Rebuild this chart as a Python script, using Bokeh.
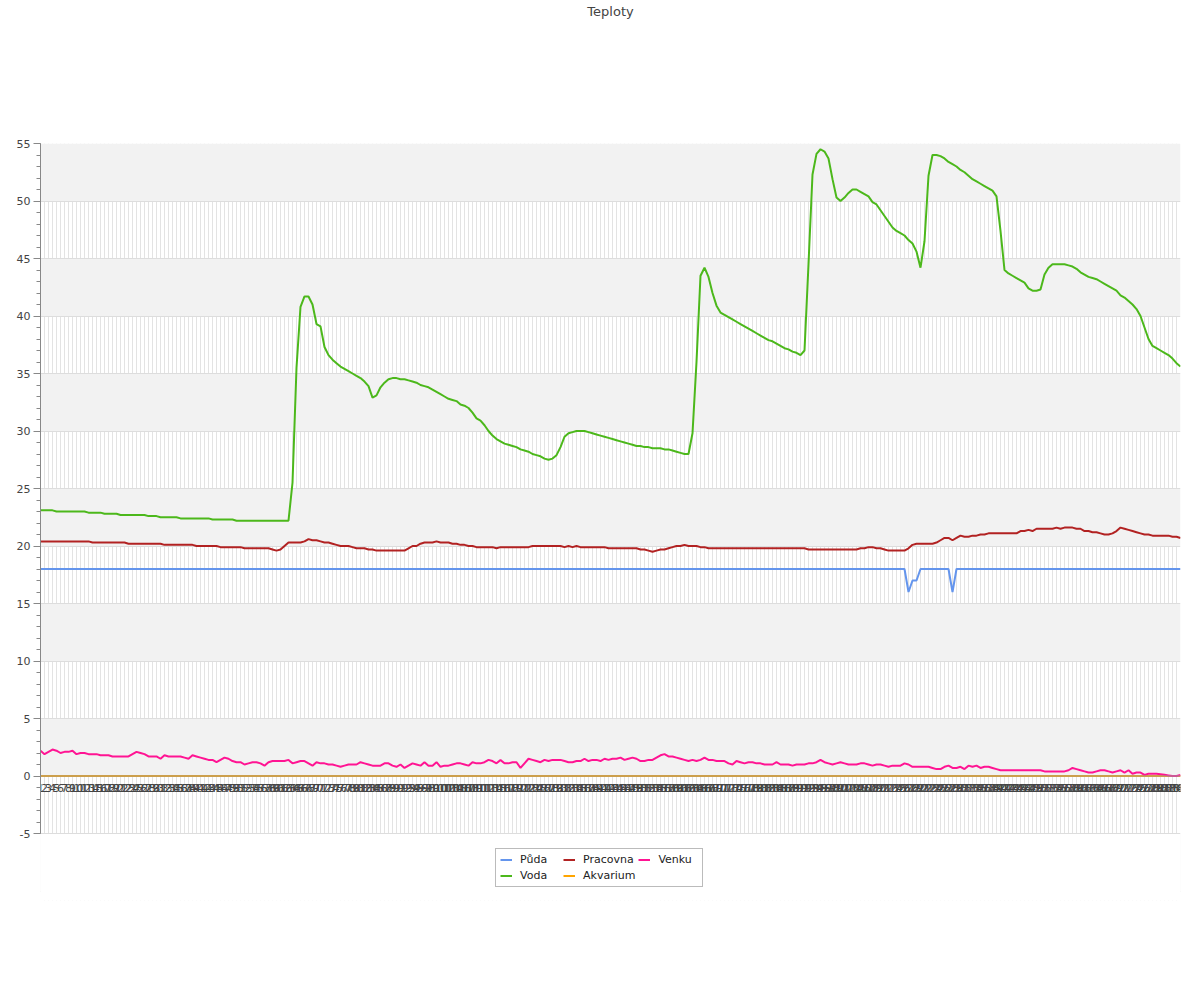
from bokeh.plotting import figure
from bokeh.models import (Range1d, FixedTicker, Legend, LegendItem, ColumnDataSource, Span,
                          Title, BoxAnnotation)
from bokeh.core.properties import value
from bokeh.embed import file_html
from bokeh.resources import INLINE

labels = [str(i) for i in range(1, 287)]

puda = [
    18.0, 18.0, 18.0, 18.0, 18.0, 18.0, 18.0, 18.0, 18.0, 18.0,
    18.0, 18.0, 18.0, 18.0, 18.0, 18.0, 18.0, 18.0, 18.0, 18.0,
    18.0, 18.0, 18.0, 18.0, 18.0, 18.0, 18.0, 18.0, 18.0, 18.0,
    18.0, 18.0, 18.0, 18.0, 18.0, 18.0, 18.0, 18.0, 18.0, 18.0,
    18.0, 18.0, 18.0, 18.0, 18.0, 18.0, 18.0, 18.0, 18.0, 18.0,
    18.0, 18.0, 18.0, 18.0, 18.0, 18.0, 18.0, 18.0, 18.0, 18.0,
    18.0, 18.0, 18.0, 18.0, 18.0, 18.0, 18.0, 18.0, 18.0, 18.0,
    18.0, 18.0, 18.0, 18.0, 18.0, 18.0, 18.0, 18.0, 18.0, 18.0,
    18.0, 18.0, 18.0, 18.0, 18.0, 18.0, 18.0, 18.0, 18.0, 18.0,
    18.0, 18.0, 18.0, 18.0, 18.0, 18.0, 18.0, 18.0, 18.0, 18.0,
    18.0, 18.0, 18.0, 18.0, 18.0, 18.0, 18.0, 18.0, 18.0, 18.0,
    18.0, 18.0, 18.0, 18.0, 18.0, 18.0, 18.0, 18.0, 18.0, 18.0,
    18.0, 18.0, 18.0, 18.0, 18.0, 18.0, 18.0, 18.0, 18.0, 18.0,
    18.0, 18.0, 18.0, 18.0, 18.0, 18.0, 18.0, 18.0, 18.0, 18.0,
    18.0, 18.0, 18.0, 18.0, 18.0, 18.0, 18.0, 18.0, 18.0, 18.0,
    18.0, 18.0, 18.0, 18.0, 18.0, 18.0, 18.0, 18.0, 18.0, 18.0,
    18.0, 18.0, 18.0, 18.0, 18.0, 18.0, 18.0, 18.0, 18.0, 18.0,
    18.0, 18.0, 18.0, 18.0, 18.0, 18.0, 18.0, 18.0, 18.0, 18.0,
    18.0, 18.0, 18.0, 18.0, 18.0, 18.0, 18.0, 18.0, 18.0, 18.0,
    18.0, 18.0, 18.0, 18.0, 18.0, 18.0, 18.0, 18.0, 18.0, 18.0,
    18.0, 18.0, 18.0, 18.0, 18.0, 18.0, 18.0, 18.0, 18.0, 18.0,
    18.0, 18.0, 18.0, 18.0, 18.0, 18.0, 18.0, 16.0, 17.0, 17.0,
    18.0, 18.0, 18.0, 18.0, 18.0, 18.0, 18.0, 18.0, 16.0, 18.0,
    18.0, 18.0, 18.0, 18.0, 18.0, 18.0, 18.0, 18.0, 18.0, 18.0,
    18.0, 18.0, 18.0, 18.0, 18.0, 18.0, 18.0, 18.0, 18.0, 18.0,
    18.0, 18.0, 18.0, 18.0, 18.0, 18.0, 18.0, 18.0, 18.0, 18.0,
    18.0, 18.0, 18.0, 18.0, 18.0, 18.0, 18.0, 18.0, 18.0, 18.0,
    18.0, 18.0, 18.0, 18.0, 18.0, 18.0, 18.0, 18.0, 18.0, 18.0,
    18.0, 18.0, 18.0, 18.0, 18.0, 18.0,
]

voda = [
    23.1, 23.1, 23.1, 23.1, 23.0, 23.0, 23.0, 23.0, 23.0, 23.0,
    23.0, 23.0, 22.9, 22.9, 22.9, 22.9, 22.8, 22.8, 22.8, 22.8,
    22.7, 22.7, 22.7, 22.7, 22.7, 22.7, 22.7, 22.6, 22.6, 22.6,
    22.5, 22.5, 22.5, 22.5, 22.5, 22.4, 22.4, 22.4, 22.4, 22.4,
    22.4, 22.4, 22.4, 22.3, 22.3, 22.3, 22.3, 22.3, 22.3, 22.2,
    22.2, 22.2, 22.2, 22.2, 22.2, 22.2, 22.2, 22.2, 22.2, 22.2,
    22.2, 22.2, 22.2, 25.5, 35.5, 40.8, 41.7, 41.7, 41.0, 39.3,
    39.1, 37.3, 36.6, 36.2, 35.9, 35.6, 35.4, 35.2, 35.0, 34.8,
    34.6, 34.3, 33.9, 32.9, 33.1, 33.8, 34.2, 34.5, 34.6, 34.6,
    34.5, 34.5, 34.4, 34.3, 34.2, 34.0, 33.9, 33.8, 33.6, 33.4,
    33.2, 33.0, 32.8, 32.7, 32.6, 32.3, 32.2, 32.0, 31.6, 31.1,
    30.9, 30.5, 30.0, 29.6, 29.3, 29.1, 28.9, 28.8, 28.7, 28.6,
    28.4, 28.3, 28.2, 28.0, 27.9, 27.8, 27.6, 27.5, 27.6, 27.9,
    28.6, 29.5, 29.8, 29.9, 30.0, 30.0, 30.0, 29.9, 29.8, 29.7,
    29.6, 29.5, 29.4, 29.3, 29.2, 29.1, 29.0, 28.9, 28.8, 28.7,
    28.7, 28.6, 28.6, 28.5, 28.5, 28.5, 28.4, 28.4, 28.3, 28.2,
    28.1, 28.0, 28.0, 29.8, 36.0, 43.5, 44.2, 43.4, 42.0, 40.9,
    40.3, 40.1, 39.9, 39.7, 39.5, 39.3, 39.1, 38.9, 38.7, 38.5,
    38.3, 38.1, 37.9, 37.8, 37.6, 37.4, 37.2, 37.1, 36.9, 36.8,
    36.6, 37.0, 44.5, 52.3, 54.1, 54.5, 54.3, 53.7, 51.9, 50.3,
    50.0, 50.3, 50.7, 51.0, 51.0, 50.8, 50.6, 50.4, 49.9, 49.7,
    49.2, 48.7, 48.2, 47.7, 47.4, 47.2, 47.0, 46.6, 46.3, 45.6,
    44.2, 46.5, 52.2, 54.0, 54.0, 53.9, 53.7, 53.4, 53.2, 53.0,
    52.7, 52.5, 52.2, 51.9, 51.7, 51.5, 51.3, 51.1, 50.9, 50.4,
    47.4, 44.0, 43.7, 43.5, 43.3, 43.1, 42.9, 42.4, 42.2, 42.2,
    42.3, 43.6, 44.2, 44.5, 44.5, 44.5, 44.5, 44.4, 44.3, 44.1,
    43.8, 43.6, 43.4, 43.3, 43.2, 43.0, 42.8, 42.6, 42.4, 42.2,
    41.8, 41.6, 41.3, 41.0, 40.6, 40.0, 39.0, 38.0, 37.4, 37.2,
    37.0, 36.8, 36.6, 36.3, 35.9, 35.6,
]

pracovna = [
    20.4, 20.4, 20.4, 20.4, 20.4, 20.4, 20.4, 20.4, 20.4, 20.4,
    20.4, 20.4, 20.4, 20.3, 20.3, 20.3, 20.3, 20.3, 20.3, 20.3,
    20.3, 20.3, 20.2, 20.2, 20.2, 20.2, 20.2, 20.2, 20.2, 20.2,
    20.2, 20.1, 20.1, 20.1, 20.1, 20.1, 20.1, 20.1, 20.1, 20.0,
    20.0, 20.0, 20.0, 20.0, 20.0, 19.9, 19.9, 19.9, 19.9, 19.9,
    19.9, 19.8, 19.8, 19.8, 19.8, 19.8, 19.8, 19.8, 19.7, 19.6,
    19.7, 20.0, 20.3, 20.3, 20.3, 20.3, 20.4, 20.6, 20.5, 20.5,
    20.4, 20.3, 20.3, 20.2, 20.1, 20.0, 20.0, 20.0, 19.9, 19.8,
    19.8, 19.8, 19.7, 19.7, 19.6, 19.6, 19.6, 19.6, 19.6, 19.6,
    19.6, 19.6, 19.8, 20.0, 20.0, 20.2, 20.3, 20.3, 20.3, 20.4,
    20.3, 20.3, 20.3, 20.2, 20.2, 20.1, 20.1, 20.0, 20.0, 19.9,
    19.9, 19.9, 19.9, 19.9, 19.8, 19.9, 19.9, 19.9, 19.9, 19.9,
    19.9, 19.9, 19.9, 20.0, 20.0, 20.0, 20.0, 20.0, 20.0, 20.0,
    20.0, 19.9, 20.0, 19.9, 20.0, 19.9, 19.9, 19.9, 19.9, 19.9,
    19.9, 19.9, 19.8, 19.8, 19.8, 19.8, 19.8, 19.8, 19.8, 19.8,
    19.7, 19.7, 19.6, 19.5, 19.6, 19.7, 19.7, 19.8, 19.9, 20.0,
    20.0, 20.1, 20.0, 20.0, 20.0, 19.9, 19.9, 19.8, 19.8, 19.8,
    19.8, 19.8, 19.8, 19.8, 19.8, 19.8, 19.8, 19.8, 19.8, 19.8,
    19.8, 19.8, 19.8, 19.8, 19.8, 19.8, 19.8, 19.8, 19.8, 19.8,
    19.8, 19.8, 19.7, 19.7, 19.7, 19.7, 19.7, 19.7, 19.7, 19.7,
    19.7, 19.7, 19.7, 19.7, 19.7, 19.8, 19.8, 19.9, 19.9, 19.8,
    19.8, 19.7, 19.6, 19.6, 19.6, 19.6, 19.6, 19.8, 20.1, 20.2,
    20.2, 20.2, 20.2, 20.2, 20.3, 20.5, 20.7, 20.7, 20.5, 20.7,
    20.9, 20.8, 20.8, 20.9, 20.9, 21.0, 21.0, 21.1, 21.1, 21.1,
    21.1, 21.1, 21.1, 21.1, 21.1, 21.3, 21.3, 21.4, 21.3, 21.5,
    21.5, 21.5, 21.5, 21.5, 21.6, 21.5, 21.6, 21.6, 21.6, 21.5,
    21.5, 21.3, 21.3, 21.2, 21.2, 21.1, 21.0, 21.0, 21.1, 21.3,
    21.6, 21.5, 21.4, 21.3, 21.2, 21.1, 21.0, 21.0, 20.9, 20.9,
    20.9, 20.9, 20.9, 20.8, 20.8, 20.7,
]

akvarium = [
    0.0, 0.0, 0.0, 0.0, 0.0, 0.0, 0.0, 0.0, 0.0, 0.0,
    0.0, 0.0, 0.0, 0.0, 0.0, 0.0, 0.0, 0.0, 0.0, 0.0,
    0.0, 0.0, 0.0, 0.0, 0.0, 0.0, 0.0, 0.0, 0.0, 0.0,
    0.0, 0.0, 0.0, 0.0, 0.0, 0.0, 0.0, 0.0, 0.0, 0.0,
    0.0, 0.0, 0.0, 0.0, 0.0, 0.0, 0.0, 0.0, 0.0, 0.0,
    0.0, 0.0, 0.0, 0.0, 0.0, 0.0, 0.0, 0.0, 0.0, 0.0,
    0.0, 0.0, 0.0, 0.0, 0.0, 0.0, 0.0, 0.0, 0.0, 0.0,
    0.0, 0.0, 0.0, 0.0, 0.0, 0.0, 0.0, 0.0, 0.0, 0.0,
    0.0, 0.0, 0.0, 0.0, 0.0, 0.0, 0.0, 0.0, 0.0, 0.0,
    0.0, 0.0, 0.0, 0.0, 0.0, 0.0, 0.0, 0.0, 0.0, 0.0,
    0.0, 0.0, 0.0, 0.0, 0.0, 0.0, 0.0, 0.0, 0.0, 0.0,
    0.0, 0.0, 0.0, 0.0, 0.0, 0.0, 0.0, 0.0, 0.0, 0.0,
    0.0, 0.0, 0.0, 0.0, 0.0, 0.0, 0.0, 0.0, 0.0, 0.0,
    0.0, 0.0, 0.0, 0.0, 0.0, 0.0, 0.0, 0.0, 0.0, 0.0,
    0.0, 0.0, 0.0, 0.0, 0.0, 0.0, 0.0, 0.0, 0.0, 0.0,
    0.0, 0.0, 0.0, 0.0, 0.0, 0.0, 0.0, 0.0, 0.0, 0.0,
    0.0, 0.0, 0.0, 0.0, 0.0, 0.0, 0.0, 0.0, 0.0, 0.0,
    0.0, 0.0, 0.0, 0.0, 0.0, 0.0, 0.0, 0.0, 0.0, 0.0,
    0.0, 0.0, 0.0, 0.0, 0.0, 0.0, 0.0, 0.0, 0.0, 0.0,
    0.0, 0.0, 0.0, 0.0, 0.0, 0.0, 0.0, 0.0, 0.0, 0.0,
    0.0, 0.0, 0.0, 0.0, 0.0, 0.0, 0.0, 0.0, 0.0, 0.0,
    0.0, 0.0, 0.0, 0.0, 0.0, 0.0, 0.0, 0.0, 0.0, 0.0,
    0.0, 0.0, 0.0, 0.0, 0.0, 0.0, 0.0, 0.0, 0.0, 0.0,
    0.0, 0.0, 0.0, 0.0, 0.0, 0.0, 0.0, 0.0, 0.0, 0.0,
    0.0, 0.0, 0.0, 0.0, 0.0, 0.0, 0.0, 0.0, 0.0, 0.0,
    0.0, 0.0, 0.0, 0.0, 0.0, 0.0, 0.0, 0.0, 0.0, 0.0,
    0.0, 0.0, 0.0, 0.0, 0.0, 0.0, 0.0, 0.0, 0.0, 0.0,
    0.0, 0.0, 0.0, 0.0, 0.0, 0.0, 0.0, 0.0, 0.0, 0.0,
    0.0, 0.0, 0.0, 0.0, 0.0, 0.0,
]

venku = [
    2.2, 1.9, 2.1, 2.3, 2.2, 2.0, 2.1, 2.1, 2.2, 1.9,
    2.0, 2.0, 1.9, 1.9, 1.9, 1.8, 1.8, 1.8, 1.7, 1.7,
    1.7, 1.7, 1.7, 1.9, 2.1, 2.0, 1.9, 1.7, 1.7, 1.7,
    1.5, 1.8, 1.7, 1.7, 1.7, 1.7, 1.6, 1.5, 1.8, 1.7,
    1.6, 1.5, 1.4, 1.4, 1.2, 1.4, 1.6, 1.5, 1.3, 1.2,
    1.2, 1.0, 1.1, 1.2, 1.2, 1.1, 0.9, 1.2, 1.3, 1.3,
    1.3, 1.3, 1.4, 1.1, 1.2, 1.3, 1.3, 1.1, 0.9, 1.2,
    1.1, 1.1, 1.0, 1.0, 0.9, 0.8, 0.9, 1.0, 1.0, 1.0,
    1.2, 1.1, 1.0, 0.9, 0.9, 0.9, 1.1, 1.1, 0.9, 0.8,
    1.0, 0.7, 0.9, 1.1, 1.0, 0.9, 1.2, 0.9, 0.9, 1.2,
    0.8, 0.9, 0.9, 1.0, 1.1, 1.1, 1.0, 0.9, 1.2, 1.1,
    1.1, 1.2, 1.4, 1.3, 1.1, 1.4, 1.1, 1.1, 1.2, 1.2,
    0.7, 1.1, 1.5, 1.4, 1.3, 1.2, 1.4, 1.3, 1.4, 1.4,
    1.4, 1.3, 1.2, 1.2, 1.3, 1.3, 1.5, 1.3, 1.4, 1.4,
    1.3, 1.5, 1.4, 1.5, 1.5, 1.6, 1.4, 1.5, 1.6, 1.5,
    1.3, 1.3, 1.4, 1.4, 1.6, 1.8, 1.9, 1.7, 1.7, 1.6,
    1.5, 1.4, 1.3, 1.4, 1.3, 1.4, 1.6, 1.4, 1.4, 1.3,
    1.3, 1.3, 1.1, 1.0, 1.3, 1.2, 1.1, 1.2, 1.2, 1.1,
    1.1, 1.0, 1.0, 1.0, 1.2, 1.0, 1.0, 1.0, 0.9, 1.0,
    1.0, 1.0, 1.1, 1.1, 1.2, 1.4, 1.2, 1.1, 1.0, 1.1,
    1.2, 1.1, 1.0, 1.0, 1.0, 1.1, 1.1, 1.0, 0.9, 1.0,
    1.0, 0.9, 0.8, 0.9, 0.9, 0.9, 1.1, 1.0, 0.8, 0.8,
    0.8, 0.8, 0.8, 0.7, 0.6, 0.6, 0.8, 0.9, 0.7, 0.7,
    0.8, 0.6, 0.9, 0.8, 0.9, 0.7, 0.8, 0.8, 0.7, 0.6,
    0.5, 0.5, 0.5, 0.5, 0.5, 0.5, 0.5, 0.5, 0.5, 0.5,
    0.5, 0.4, 0.4, 0.4, 0.4, 0.4, 0.4, 0.5, 0.7, 0.6,
    0.5, 0.4, 0.3, 0.3, 0.4, 0.5, 0.5, 0.4, 0.3, 0.4,
    0.5, 0.3, 0.5, 0.2, 0.3, 0.3, 0.1, 0.2, 0.2, 0.2,
    0.15, 0.1, 0.05, 0.0, 0.0, 0.1,
]

series_names = ["Půda", "Voda", "Pracovna", "Akvarium", "Venku"]
series_colors = ["#6495ed", "#4cb81b", "#b22222", "#ffa500", "#ff1493"]
y_ticks = [-5, 0, 5, 10, 15, 20, 25, 30, 35, 40, 45, 50, 55]

n = len(labels)
xs = list(range(1, n + 1))
src = ColumnDataSource(dict(x=xs, y0=[0] * n, label=labels, puda=puda, voda=voda,
                            pracovna=pracovna, akvarium=akvarium, venku=venku))

# plot area: 690 px for -5..55; the frame is extended by 67 px below -5
# so that the legend can sit under the chart without being clipped
px_per_unit = 690 / 60.0
extra_px = 67
y_low = -5 - extra_px / px_per_unit

p = figure(output_backend="svg", toolbar_location=None, title=None,
           x_range=Range1d(1, n), y_range=Range1d(y_low, 55),
           frame_width=1140, frame_height=690 + extra_px,
           min_border_left=40, min_border_right=12, min_border_top=143,
           min_border_bottom=10)
p.background_fill_color = "white"
p.border_fill_color = "white"
p.outline_line_color = None

# spacer nearest the frame, then the real title above it
spacer = Title(text=" ", text_font_size="13px", standoff=108)
title = Title(text="Teploty", align="center", text_font="DejaVu Sans",
              text_font_style="normal", text_font_size="13px",
              text_color="#444444", standoff=0)
p.add_layout(spacer, "above")
p.add_layout(title, "above")

# hide default x axis; labels are drawn along y = 0
p.xaxis.visible = False

yaxis = p.yaxis[0]
yaxis.ticker = FixedTicker(ticks=y_ticks, minor_ticks=list(range(-5, 56)))
yaxis.bounds = (-5, 55)
yaxis.major_label_overrides = {-5: "-5"}
yaxis.axis_line_color = "#888888"
yaxis.major_tick_line_color = "#888888"
yaxis.minor_tick_line_color = "#888888"
yaxis.major_tick_in = 0
yaxis.major_tick_out = 7
yaxis.minor_tick_in = 0
yaxis.minor_tick_out = 4
yaxis.major_label_text_font = "DejaVu Sans"
yaxis.major_label_text_font_size = "11px"
yaxis.major_label_text_color = "#444444"
yaxis.major_label_standoff = 3

p.xgrid.ticker = FixedTicker(ticks=xs)
p.xgrid.grid_line_color = "#e3e3e3"
p.xgrid.grid_line_width = 1
# one extra grid tick below the visible area keeps the band parity (0..5 shaded)
p.ygrid.ticker = FixedTicker(ticks=[-10] + y_ticks)
p.ygrid.grid_line_color = "#dddddd"
p.ygrid.band_fill_color = "#f2f2f2"
p.ygrid.band_fill_alpha = 1.0

# blank out the extension strip below -5
p.add_layout(BoxAnnotation(top=-5.05, fill_color="white", fill_alpha=1.0,
                           line_color=None, level="underlay"))

p.add_layout(Span(location=0, dimension="width", line_color="#999999", line_width=1))

p.text("x", "y0", text="label", source=src, text_align="center", text_baseline="top",
       y_offset=8, text_font=value("DejaVu Sans"), text_font_size="11px",
       text_color="#444444")

cols = ["puda", "voda", "pracovna", "akvarium", "venku"]
renderers = []
for col, color in zip(cols, series_colors):
    r = p.line("x", col, source=src, line_color=color, line_width=2)
    renderers.append(r)

items = [LegendItem(label=nm, renderers=[r]) for nm, r in zip(series_names, renderers)]
legend = Legend(items=items, orientation="vertical", nrows=2, location=(455, 13),
                border_line_color="#777777", border_line_width=1,
                label_text_font="DejaVu Sans", label_text_font_size="11px",
                label_text_color="#222222",
                glyph_width=12, glyph_height=13, label_height=13, label_width=40,
                label_standoff=8, spacing=3, padding=4, margin=0,
                background_fill_color="white")
p.add_layout(legend, "center")

open("out.html", "w").write(file_html(p, INLINE))
